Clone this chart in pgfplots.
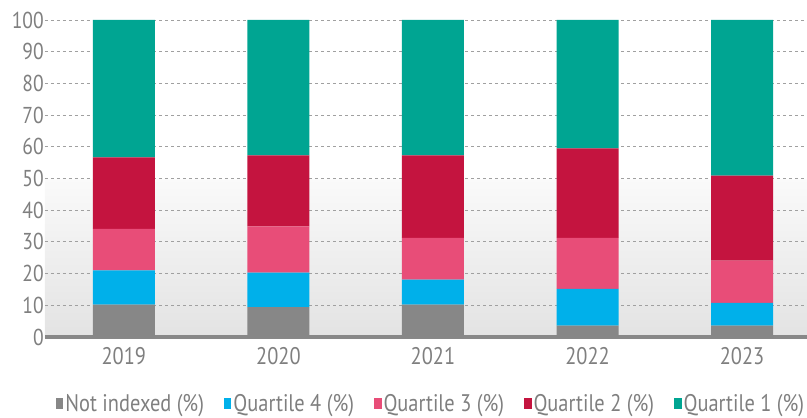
\documentclass[border=0pt]{standalone}
\usepackage{pgfplots}
\pgfplotsset{compat=1.18}
\usepackage{fontspec}
\setmainfont{PT Sans}[FakeStretch=0.85]
\definecolor{cgray}{HTML}{878787}
\definecolor{cblue}{HTML}{00B0EA}
\definecolor{cpink}{HTML}{E84D78}
\definecolor{cred}{HTML}{C4143F}
\definecolor{cteal}{HTML}{00A592}
\definecolor{ctext}{HTML}{7F7F7F}
\definecolor{cgrid}{HTML}{A0A0A0}
\definecolor{caxis}{HTML}{888888}
\pgfdeclareverticalshading{bggrad}{100bp}{rgb(0bp)=(0.89,0.89,0.89); rgb(25bp)=(0.89,0.89,0.89); rgb(49.9bp)=(0.98,0.98,0.98); rgb(50bp)=(1,1,1); rgb(100bp)=(1,1,1)}
\begin{document}
\begin{tikzpicture}
\begin{axis}[
  name=ax,
  scale only axis,
  width=762bp, height=317bp,
  ybar stacked,
  bar width=62bp,
  xmin=-0.51, xmax=4.42,
  ymin=0, ymax=100,
  xtick={0,1,2,3,4},
  xticklabels={2019,2020,2021,2022,2023},
  ytick={0,10,...,100},
  axis x line*=bottom,
  axis y line*=left,
  x axis line style={draw=caxis, line width=3.3bp, -},
  y axis line style={draw=none},
  major tick length=0pt,
  ymajorgrids,
  grid style={draw=cgrid, dash pattern=on 3bp off 3bp, line width=0.8bp},
  axis background/.style={shading=bggrad},
  /pgf/number format/assume math mode=true,
  yticklabel style={font=\fontsize{23bp}{27bp}\selectfont, text=ctext, inner xsep=0pt, xshift=-1bp},
  xticklabel style={font=\fontsize{24bp}{28bp}\selectfont, text=ctext, yshift=-7bp},
  legend columns=5,
  legend style={draw=none, fill=none, at={(0.5066,-0.211)}, anchor=center,
    font=\fontsize{24bp}{28bp}\selectfont, text=ctext,
    nodes={inner xsep=2bp, inner ysep=0pt},
    /tikz/every even column/.append style={column sep=18bp}},
  legend image code/.code={\fill[#1] (0bp,-5.5bp) rectangle (7.5bp,5.5bp);},
]
\addplot[fill=cgray, draw=none] coordinates {(0,10.2) (1,9.4) (2,10.2) (3,3.6) (4,3.6)};
\addplot[fill=cblue, draw=none] coordinates {(0,10.8) (1,10.9) (2,7.9) (3,11.6) (4,7.2)};
\addplot[fill=cpink, draw=none] coordinates {(0,13.1) (1,14.6) (2,13.2) (3,16.1) (4,13.3)};
\addplot[fill=cred, draw=none] coordinates {(0,22.6) (1,22.4) (2,26.0) (3,28.2) (4,26.8)};
\addplot[fill=cteal, draw=none] coordinates {(0,43.3) (1,42.7) (2,42.7) (3,40.5) (4,49.1)};
\legend{Not indexed (\%), Quartile 4 (\%), Quartile 3 (\%), Quartile 2 (\%), Quartile 1 (\%)}
\end{axis}
\pgfresetboundingbox
\path ([shift={(-45bp,-81bp)}]ax.south west) rectangle ([shift={(0bp,20bp)}]ax.north east);
\end{tikzpicture}
\end{document}
